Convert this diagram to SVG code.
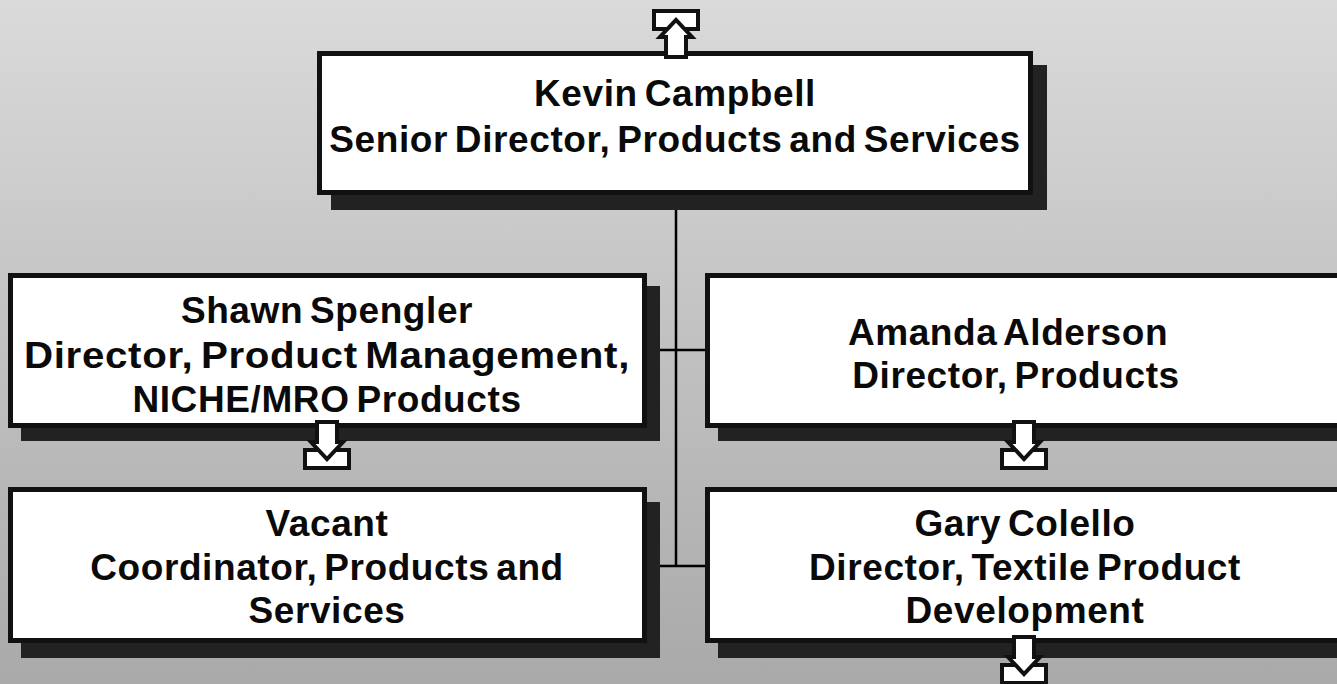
<svg xmlns="http://www.w3.org/2000/svg" xmlns:xlink="http://www.w3.org/1999/xlink" width="1337" height="684" viewBox="0 0 1337 684">
<defs>
<linearGradient id="bg" x1="0" y1="0" x2="0" y2="1">
<stop offset="0" stop-color="#dadada"/>
<stop offset="1" stop-color="#a9a9a9"/>
</linearGradient>
<g id="darrow">
<rect x="-22" y="22" width="44" height="18" fill="#fff" stroke="#111" stroke-width="4"/>
<path d="M-10,-6 L10,-6 L10,14 L16,14 L0,31 L-16,14 L-10,14 Z" fill="#fff" stroke="#111" stroke-width="4" stroke-linejoin="miter"/>
</g>
</defs>
<style>
.shadow{fill:#222}
.box{fill:#fff;stroke:#111;stroke-width:5}
.conn{stroke:#000;stroke-width:2.5;fill:none}
text{font-family:"Liberation Sans",Arial,sans-serif;font-weight:bold;font-size:37px;letter-spacing:0.6px;word-spacing:-4px;fill:#0a0a0a;text-anchor:middle}
</style>
<rect width="1337" height="684" fill="url(#bg)"/>
<g id="connectors">
<line class="conn" x1="676" y1="195" x2="676" y2="566"/>
<line class="conn" x1="647" y1="350" x2="706" y2="350"/>
<line class="conn" x1="647" y1="566" x2="706" y2="566"/>
</g>
<g id="kevin">
<rect class="shadow" x="331" y="65" width="716" height="145"/>
<rect class="box" x="319.5" y="53.5" width="711" height="139"/>
<use xlink:href="#darrow" transform="translate(676,51) scale(1,-1)"/>
<text x="675" y="106">Kevin Campbell</text>
<text x="675" y="152">Senior Director, Products and Services</text>
</g>
<g id="shawn">
<rect class="shadow" x="21" y="286" width="639" height="155"/>
<rect class="box" x="10.5" y="275.5" width="634" height="150"/>
<use xlink:href="#darrow" transform="translate(327,428)"/>
<text x="327" y="323">Shawn Spengler</text>
<text x="327" y="368" textLength="606" lengthAdjust="spacingAndGlyphs">Director, Product Management,</text>
<text x="327" y="412">NICHE/MRO Products</text>
</g>
<g id="amanda">
<rect class="shadow" x="718" y="286" width="639" height="155"/>
<rect class="box" x="707.5" y="275.5" width="634" height="150"/>
<use xlink:href="#darrow" transform="translate(1024,428)"/>
<text x="1008" y="345">Amanda Alderson</text>
<text x="1016" y="388">Director, Products</text>
</g>
<g id="vacant">
<rect class="shadow" x="21" y="502" width="639" height="156"/>
<rect class="box" x="10.5" y="489.5" width="634" height="151"/>
<text x="327" y="536">Vacant</text>
<text x="327" y="580">Coordinator, Products and</text>
<text x="327" y="623">Services</text>
</g>
<g id="gary">
<rect class="shadow" x="718" y="502" width="639" height="156"/>
<rect class="box" x="707.5" y="489.5" width="634" height="151"/>
<use xlink:href="#darrow" transform="translate(1024,643)"/>
<text x="1025" y="536">Gary Colello</text>
<text x="1025" y="580">Director, Textile Product</text>
<text x="1025" y="623">Development</text>
</g>
</svg>
